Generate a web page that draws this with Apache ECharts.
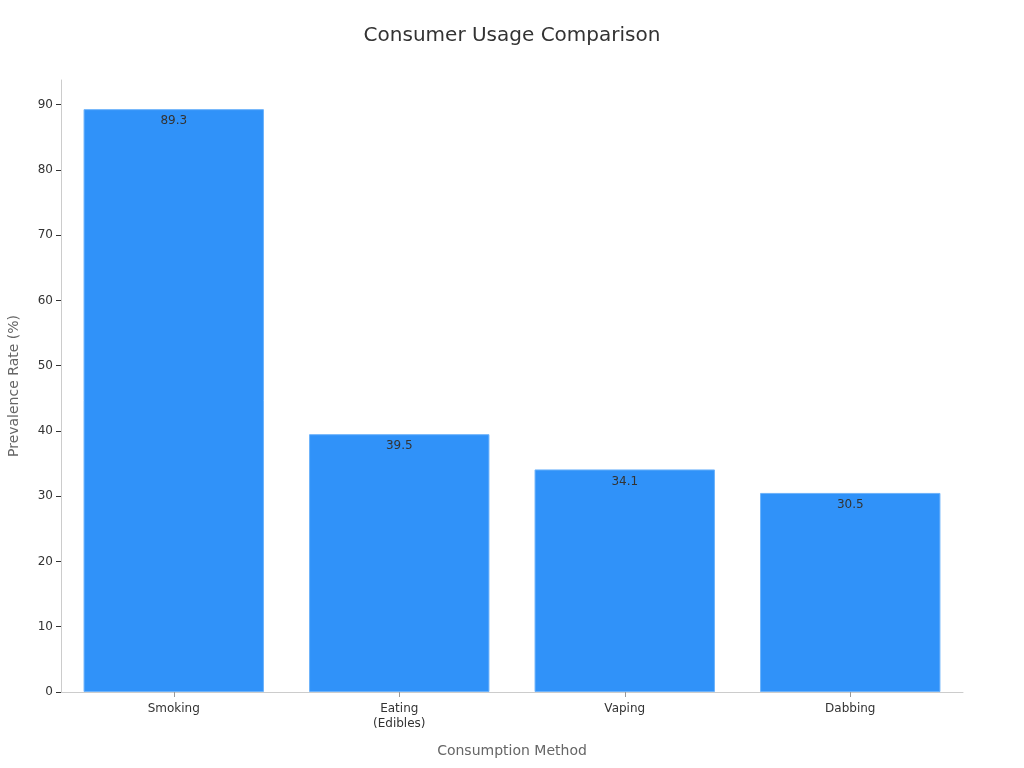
<!DOCTYPE html>
<html>
<head>
<meta charset="utf-8">
<script src="https://cdn.jsdelivr.net/npm/echarts@6/dist/echarts.min.js"></script>
<style>html,body{margin:0;padding:0;background:#fff}#c{width:1024px;height:768px}</style>
</head>
<body>
<div id="c"></div>
<script>
const categories = ['Smoking', 'Eating\n(Edibles)', 'Vaping', 'Dabbing'];
const prevalence = [89.3, 39.5, 34.1, 30.5];
const yTicks = [0, 10, 20, 30, 40, 50, 60, 70, 80, 90];

const chart = echarts.init(document.getElementById('c'));
chart.setOption({
  animation: false,
  textStyle: { fontFamily: 'DejaVu Sans' },
  title: {
    text: 'Consumer Usage Comparison',
    left: 'center',
    top: 21,
    textStyle: { fontSize: 20, fontWeight: 'normal', color: '#333', fontFamily: 'DejaVu Sans' }
  },
  grid: { left: 61, right: 61, top: 80, bottom: 76, containLabel: false, outerBoundsMode: 'none' },
  xAxis: {
    type: 'category',
    data: categories,
    name: 'Consumption Method',
    nameLocation: 'middle',
    nameGap: 52,
    nameTextStyle: { fontSize: 14, color: '#666', fontFamily: 'DejaVu Sans' },
    axisLine: { lineStyle: { color: '#ccc' } },
    axisTick: { show: true, alignWithLabel: true, length: 5, lineStyle: { color: '#999' } },
    axisLabel: { color: '#333', fontSize: 12, margin: 9, lineHeight: 15, fontFamily: 'DejaVu Sans' }
  },
  yAxis: {
    type: 'value',
    min: 0,
    max: 93.765,
    interval: 10,
    name: 'Prevalence Rate (%)',
    nameLocation: 'middle',
    nameGap: 40,
    nameTextStyle: { fontSize: 14, color: '#666', fontFamily: 'DejaVu Sans' },
    splitLine: { show: false },
    axisLine: { show: true, lineStyle: { color: '#ccc' } },
    axisTick: { show: true, length: 5, customValues: yTicks, lineStyle: { color: '#333' } },
    axisLabel: { color: '#333', fontSize: 12, margin: 8, customValues: yTicks, fontFamily: 'DejaVu Sans' }
  },
  series: [{
    type: 'bar',
    data: prevalence,
    barCategoryGap: '20%',
    itemStyle: { color: '#3092f9', borderColor: '#6db3fb', borderWidth: 1 },
    label: { show: true, position: 'insideTop', color: '#333', fontSize: 12, distance: 6, fontFamily: 'DejaVu Sans' }
  }]
});
</script>
</body>
</html>
